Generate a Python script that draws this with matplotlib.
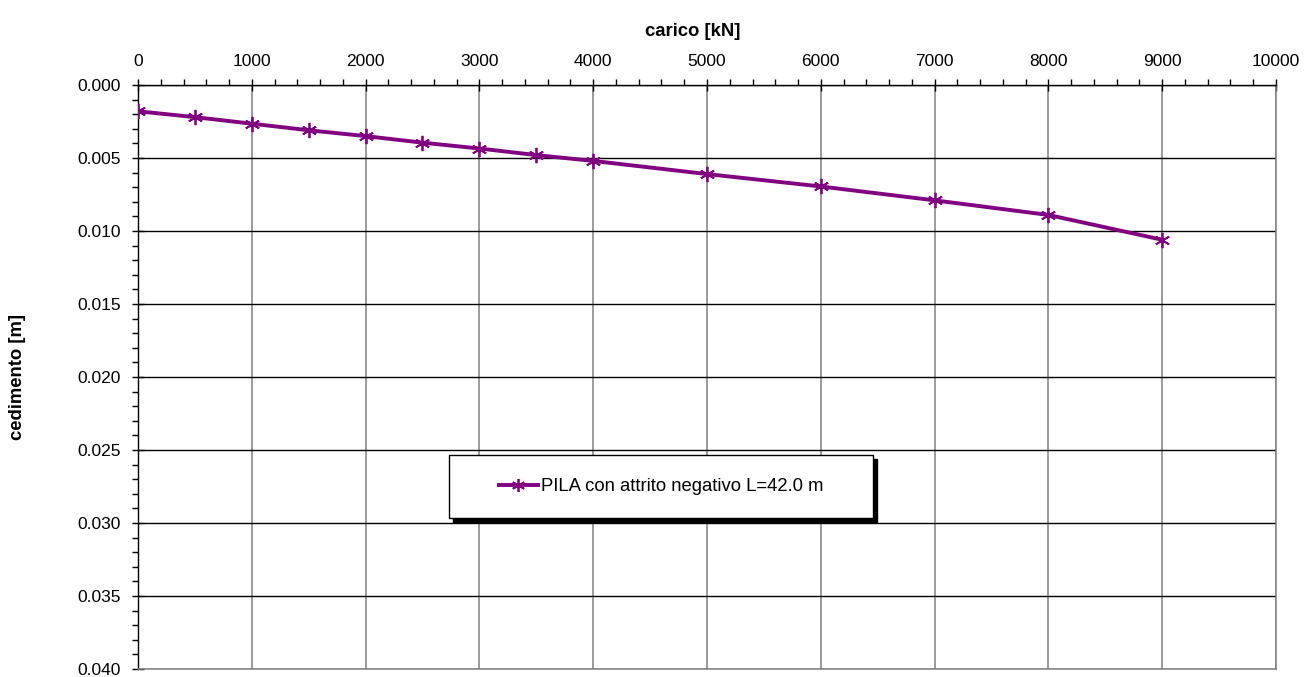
import matplotlib
matplotlib.use("Agg")
import matplotlib.pyplot as plt
from matplotlib.patches import Rectangle
from matplotlib.transforms import ScaledTranslation
from matplotlib.ticker import MultipleLocator, FormatStrFormatter

plt.rcParams['font.family'] = ['Liberation Sans', 'DejaVu Sans']

# load [kN] and settlement [m]
carico = [0, 500, 1000, 1500, 2000, 2500, 3000, 3500, 4000, 5000, 6000, 7000, 8000, 9000]
cedimento = [0.00180, 0.00220, 0.00265, 0.00310, 0.00350, 0.00395, 0.00435, 0.00480,
             0.00520, 0.00610, 0.00695, 0.00790, 0.00890, 0.01060]
serie_label = "PILA con attrito negativo L=42.0 m"
x_label = "carico [kN]"
y_label = "cedimento [m]"

purple = "#800080"
tick_fs = 12.5
label_fs = 13.3

fig = plt.figure(figsize=(13.04, 6.77), dpi=100)
ax = fig.add_axes([138 / 1304, 1 - 669 / 677, (1276 - 138) / 1304, (669 - 85) / 677])

ax.plot(carico, cedimento, color=purple, lw=2.8, marker=(6, 2, 0), ms=11,
        mec=purple, mew=1.3, label=serie_label, zorder=4)

ax.set_xlim(0, 10000)
ax.set_ylim(0.040, 0.000)

ax.xaxis.set_major_locator(MultipleLocator(1000))
ax.xaxis.set_minor_locator(MultipleLocator(200))
ax.yaxis.set_major_locator(MultipleLocator(0.005))
ax.yaxis.set_minor_locator(MultipleLocator(0.001))
ax.yaxis.set_major_formatter(FormatStrFormatter('%.3f'))

ax.xaxis.tick_top()
ax.xaxis.set_label_position('top')
ax.tick_params(axis='both', which='major', direction='inout', length=9, width=1,
               labelsize=tick_fs, colors='black')
ax.tick_params(axis='both', which='minor', direction='out', length=4, width=1)
ax.tick_params(axis='x', which='major', pad=7)
ax.tick_params(axis='y', which='major', pad=8)
ax.tick_params(axis='x', which='both', bottom=False, top=True)
ax.tick_params(axis='y', which='both', right=False, left=True)

ax.set_xlabel(x_label, fontsize=label_fs, fontweight='bold')
ax.set_ylabel(y_label, fontsize=label_fs, fontweight='bold')
ax.xaxis.set_label_coords(0.487, 1.084)
ax.yaxis.set_label_coords(-0.0984, 0.5)

# grid: vertical lines grey, horizontal lines black
ax.grid(False)
ax.xaxis.grid(True, which='major', color='#808080', lw=1.1)
ax.yaxis.grid(True, which='major', color='black', lw=1.0)
ax.set_axisbelow(True)

for side in ('top', 'left'):
    ax.spines[side].set_color('black')
    ax.spines[side].set_linewidth(1.0)
for side in ('right', 'bottom'):
    ax.spines[side].set_color('#808080')
    ax.spines[side].set_linewidth(1.1)

# legend box with drop shadow
bx0 = (449 - 138) / 1138
bw = 424 / 1138
by0 = 1 - (518 - 85) / 584
bh = 63 / 584
shadow = Rectangle((bx0, by0), bw, bh, facecolor='black', edgecolor='black', zorder=5)
shadow.set_transform(ax.transAxes + ScaledTranslation(4 / 100, -4 / 100, fig.dpi_scale_trans))
ax.add_patch(shadow)
box = Rectangle((bx0, by0), bw, bh, transform=ax.transAxes, facecolor='white',
                edgecolor='black', lw=1.0, zorder=6)
ax.add_patch(box)

leg = ax.legend(loc='center', bbox_to_anchor=(bx0 + bw / 2, by0 + bh / 2),
                frameon=False, fontsize=label_fs, handlelength=2.1, handletextpad=0.15,
                markerscale=0.85)
leg.set_zorder(7)

fig.savefig("out.png", dpi=100)
